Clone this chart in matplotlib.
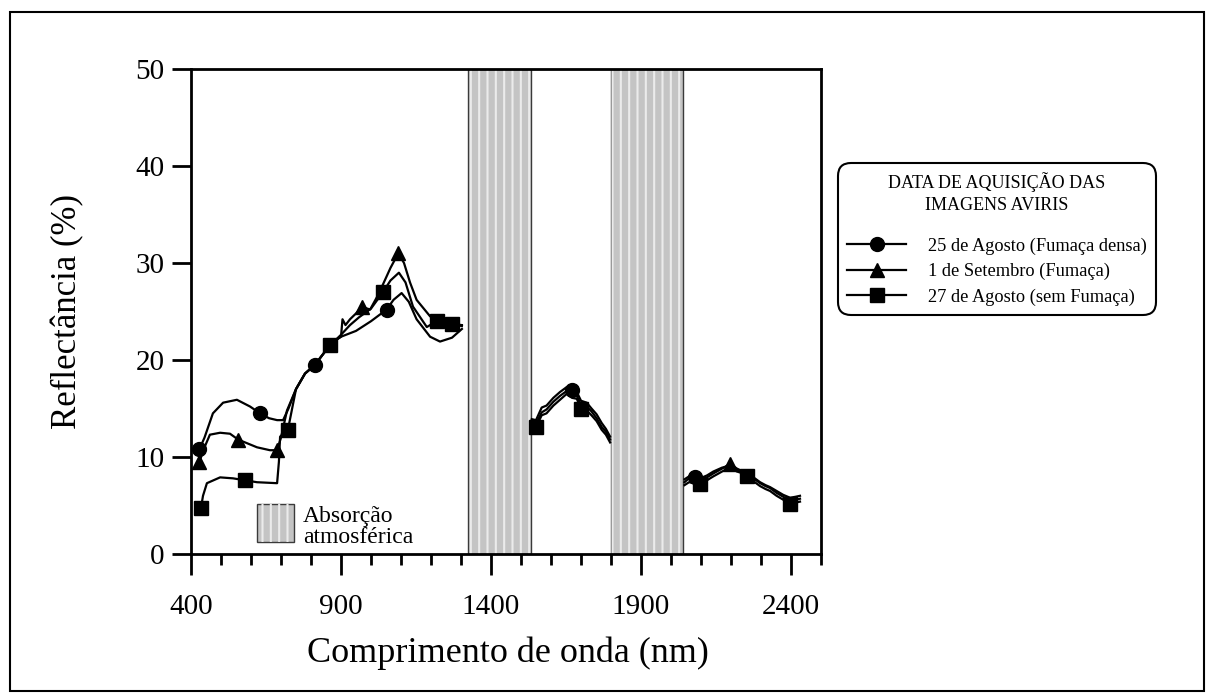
import matplotlib.pyplot as plt
from matplotlib.patches import Rectangle
from matplotlib.lines import Line2D
from matplotlib.ticker import MultipleLocator

plt.rcParams['font.family'] = ['Liberation Serif', 'DejaVu Serif']

# wavelength grids (nm) for the two SWIR windows, shared by all dates
wl_swir1 = [1536, 1550, 1569, 1585, 1608, 1630, 1652, 1670, 1686, 1700, 1719, 1735, 1752, 1769, 1783, 1797]
wl_swir2 = [2045, 2060, 2080, 2097, 2120, 2141, 2170, 2197, 2220, 2241, 2252, 2275, 2297, 2315, 2330, 2352,
            2374, 2397, 2415, 2430]

# 25 de Agosto (Fumaca densa) - circles
wl_vis_25 = [428, 445, 473, 507, 553, 597, 630, 660, 687, 707, 725, 750, 780, 813, 850, 880, 900, 950, 1000,
             1052, 1075, 1102, 1126, 1152, 1197, 1230, 1270, 1303]
refl_vis_25 = [10.8, 12.0, 14.5, 15.6, 15.9, 15.2, 14.5, 14.0, 13.8, 13.8, 15.0, 17.0, 18.6, 19.5, 21.0, 22.0,
               22.4, 23.0, 24.0, 25.2, 26.2, 26.9, 26.0, 24.2, 22.4, 21.9, 22.3, 23.2]
refl_sw1_25 = [13.9, 13.8, 15.1, 15.3, 16.1, 16.7, 17.2, 16.9, 16.7, 15.8, 15.6, 15.0, 14.4, 13.5, 12.9, 12.1]
refl_sw2_25 = [7.7, 8.0, 7.9, 7.8, 8.1, 8.5, 8.9, 9.1, 8.7, 8.4, 8.2, 7.9, 7.4, 7.1, 6.9, 6.5, 6.1, 5.8, 5.9, 6.0]

# 1 de Setembro (Fumaca) - triangles
wl_vis_01 = [428, 445, 463, 497, 530, 557, 620, 663, 687, 700, 720, 750, 780, 813, 850, 880, 900, 905, 915, 930,
             950, 969, 997, 1020, 1040, 1065, 1091, 1110, 1130, 1152, 1197, 1226, 1270, 1303]
refl_vis_01 = [9.5, 11.0, 12.3, 12.5, 12.4, 11.8, 11.0, 10.7, 10.7, 12.0, 14.8, 17.0, 18.6, 19.5, 21.0, 22.0,
               22.4, 24.2, 23.6, 24.2, 24.8, 25.5, 25.2, 26.5, 27.8, 29.5, 31.0, 30.0, 28.0, 26.2, 24.5, 24.2,
               23.7, 23.6]
refl_sw1_01 = [13.5, 13.4, 14.6, 14.9, 15.7, 16.3, 16.8, 16.5, 16.3, 15.4, 15.2, 14.7, 14.0, 13.1, 12.6, 11.8]
refl_sw2_01 = [7.4, 7.8, 7.6, 7.5, 7.9, 8.3, 8.8, 9.3, 8.8, 8.5, 8.2, 7.8, 7.3, 7.0, 6.8, 6.3, 5.9, 5.5, 5.6, 5.7]

# 27 de Agosto (sem Fumaca) - squares
wl_vis_27 = [433, 440, 453, 497, 540, 580, 620, 687, 693, 697, 723, 750, 780, 813, 850, 863, 880, 900, 930, 960,
             1000, 1040, 1065, 1093, 1115, 1140, 1186, 1219, 1270, 1303]
refl_vis_27 = [4.7, 6.0, 7.3, 7.9, 7.8, 7.6, 7.4, 7.3, 9.5, 12.1, 12.8, 17.0, 18.6, 19.5, 21.0, 21.5, 22.0, 22.6,
               23.6, 24.4, 25.3, 27.0, 28.2, 29.0, 28.0, 25.5, 23.4, 24.0, 23.7, 23.5]
refl_sw1_27 = [13.2, 13.1, 14.3, 14.5, 15.3, 15.9, 16.5, 16.1, 16.0, 15.0, 14.8, 14.3, 13.7, 12.8, 12.3, 11.5]
refl_sw2_27 = [7.1, 7.4, 7.3, 7.2, 7.6, 8.0, 8.5, 8.9, 8.5, 8.3, 8.0, 7.5, 7.0, 6.7, 6.5, 6.0, 5.6, 5.2, 5.3, 5.4]

labels = ['25 de Agosto (Fumaça densa)', '1 de Setembro (Fumaça)', '27 de Agosto (sem Fumaça)']
absorption_bands = [(1323, 1533), (1800, 2040)]

fig = plt.figure(figsize=(12.13, 6.93), dpi=100)
ax = fig.add_axes([191 / 1213, 1 - 554 / 693, 630 / 1213, 485 / 693])

# outer frame of the figure
fig.patches.append(Rectangle((10 / 1213, 2 / 693), 1194 / 1213, 679 / 693, transform=fig.transFigure,
                             fill=False, edgecolor='black', lw=1.5))

plt.rcParams['hatch.linewidth'] = 1.5
for lo, hi in absorption_bands:
    ax.axvspan(lo, hi, facecolor='#c4c4c4', edgecolor='#3a3a3a', lw=1.0, zorder=1)
    ax.axvspan(lo, hi, facecolor='none', edgecolor='#ebebeb', hatch='||', lw=0, zorder=1.1)

# series: (segments with marker indices, marker, size)
series = [
    ([(wl_vis_25, refl_vis_25, [0, 6, 13, 19]), (wl_swir1, refl_sw1_25, [7]), (wl_swir2, refl_sw2_25, [2])], 'o', 10),
    ([(wl_vis_01, refl_vis_01, [0, 5, 8, 21, 26]), (wl_swir1, refl_sw1_01, []), (wl_swir2, refl_sw2_01, [7])], '^', 10),
    ([(wl_vis_27, refl_vis_27, [0, 5, 10, 15, 21, 27, 28]), (wl_swir1, refl_sw1_27, [1, 9]),
      (wl_swir2, refl_sw2_27, [3, 10, 17])], 's', 10),
]
handles = []
for segs, mk, ms in series:
    for wl, refl, marks in segs:
        ax.plot(wl, refl, color='black', lw=1.6, marker=mk, markersize=ms, markevery=marks, zorder=3)
    handles.append(Line2D([], [], color='black', lw=1.6, marker=mk, markersize=ms))

# small key for the absorption bands
ax.add_patch(Rectangle((620, 1.24), 123, 3.9, facecolor='#c4c4c4', edgecolor='#3a3a3a', lw=1.0, zorder=2))
ax.add_patch(Rectangle((620, 1.24), 123, 3.9, facecolor='none', edgecolor='#ebebeb', hatch='||', lw=0, zorder=2.1))
ax.text(773, 2.8, 'Absorção\natmosférica', fontsize=17, va='center', ha='left', linespacing=1.0)

ax.set_xlim(400, 2500)
ax.set_ylim(0, 50)
ax.set_xticks([400, 900, 1400, 1900, 2400])
ax.xaxis.set_minor_locator(MultipleLocator(100))
ax.set_yticks([0, 10, 20, 30, 40, 50])
ax.tick_params(axis='x', which='major', direction='out', length=15, width=2, labelsize=21, pad=14)
ax.tick_params(axis='x', which='minor', direction='out', length=8, width=2)
ax.tick_params(axis='y', direction='out', length=14, width=2, labelsize=21, pad=5)
for sp in ax.spines.values():
    sp.set_linewidth(2)

ax.set_xlabel('Comprimento de onda (nm)', fontsize=26)
ax.set_ylabel('Reflectância (%)', fontsize=25)
ax.xaxis.set_label_coords(0.503, -0.17)
ax.yaxis.set_label_coords(-0.17, 0.5)

leg = fig.legend(handles, labels, loc='upper left', bbox_to_anchor=(838 / 1213, 1 - 163 / 693), borderaxespad=0,
                 title='DATA DE AQUISIÇÃO DAS\nIMAGENS AVIRIS', fontsize=13.2, title_fontsize=13,
                 frameon=True, fancybox=True, edgecolor='black', framealpha=1, handlelength=3.2,
                 labelspacing=0.45, borderpad=0.5, handletextpad=1.2)
leg.get_frame().set_linewidth(1.5)
leg.get_frame().set_boxstyle('round,pad=0,rounding_size=0.7')
leg.get_title().set_multialignment('center')
leg.get_title().set_linespacing(1.35)
leg._legend_box.sep = 17

fig.savefig('out.png', dpi=100)
